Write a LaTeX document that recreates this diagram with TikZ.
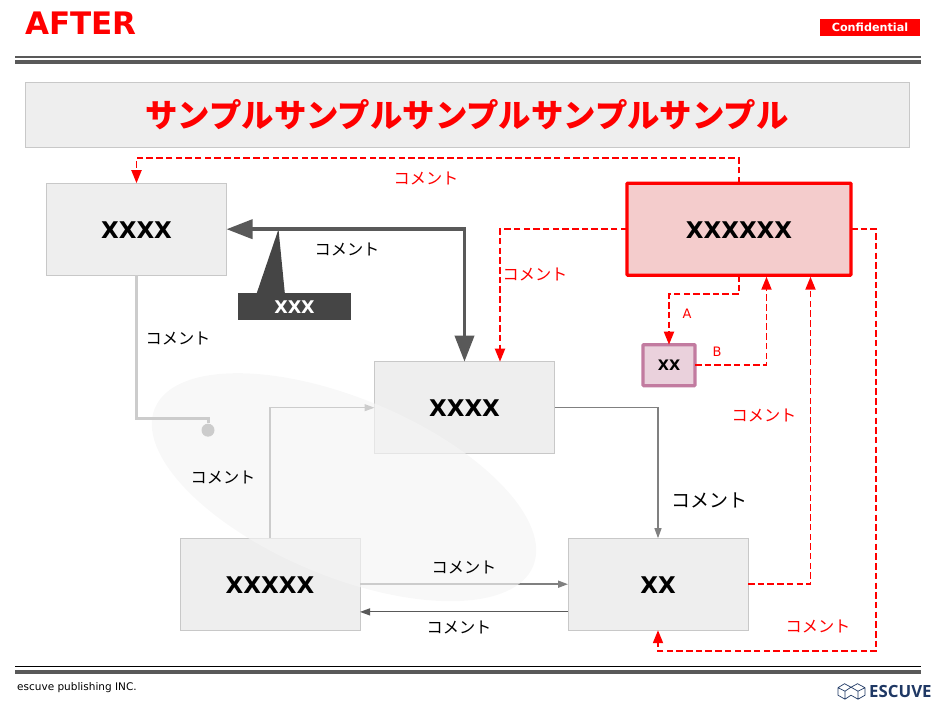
\documentclass[tikz,border=0pt]{standalone}
\usepackage{fontspec}
\setmainfont{DejaVu Sans}
\newfontfamily\cjk{Noto Sans CJK JP}
\newfontfamily\logofont{Open Sans}
\usetikzlibrary{shapes.geometric,positioning,calc,arrows.meta}
\definecolor{boxfill}{HTML}{EEEEEE}
\definecolor{boxline}{HTML}{C8C8C8}
\definecolor{darkline}{HTML}{595959}
\definecolor{midline}{HTML}{808080}
\definecolor{paleline}{HTML}{CCCCCC}
\definecolor{tagfill}{HTML}{454545}
\definecolor{hotfill}{HTML}{F4CCCC}
\definecolor{mauveline}{HTML}{C27BA0}
\definecolor{mauvefill}{HTML}{EAD1DC}
\definecolor{logonavy}{HTML}{1F3864}
\begin{document}
\begin{tikzpicture}[x=1pt, y=-1pt, node distance=20pt]
    % Styles
    \tikzstyle{entity} = [draw=boxline, line width=1pt, fill=boxfill, minimum width=180pt, minimum height=92pt, inner sep=0pt, outer sep=0pt, text height=18pt, text depth=0pt, font=\fontsize{23}{23}\selectfont\bfseries]
    \tikzstyle{hotbox} = [entity, draw=red, line width=3.2pt, fill=hotfill, minimum width=224pt, rounded corners=0.8pt]
    \tikzstyle{smallbox} = [entity, draw=mauveline, line width=3.2pt, fill=mauvefill, minimum width=52pt, minimum height=41pt, rounded corners=0.8pt, text height=11.5pt, font=\fontsize{14.5}{14.5}\selectfont\bfseries]
    \tikzstyle{comment} = [inner sep=0pt, yshift=-0.8pt, font=\fontsize{16.2}{16.2}\selectfont\cjk]
    \tikzstyle{redcomment} = [comment, text=red]
    \tikzstyle{letter} = [inner sep=0pt, text=red, font=\fontsize{13}{13}\selectfont]
    \tikzstyle{reddash} = [draw=red, line width=1.9pt, dash pattern=on 6.5pt off 3.2pt, -{Triangle[length=13pt, width=10pt]}]
    \tikzstyle{bigline} = [draw=darkline, line width=3.7pt, {Triangle[length=26pt, width=19pt]}-{Triangle[length=26pt, width=19pt]}]
    \tikzstyle{thinline} = [draw=midline, line width=1.1pt, -{Triangle[length=10pt, width=7pt]}]
    \tikzstyle{ruleline} = [draw=darkline, line width=4pt]

    \useasboundingbox (0,-0.2) rectangle (951,707.8);

    % Header
    \node [anchor=west, inner sep=0pt, text=red, font=\fontsize{31}{31}\selectfont\bfseries] (Head) at (25,23.3) {AFTER};
    \node [fill=red, text=white, minimum width=100pt, minimum height=17pt, inner sep=0pt, font=\fontsize{11.2}{11.2}\selectfont\bfseries] (Conf) at (870,27.5) {Confidential};
    \coordinate (RuleL) at (15,57); \coordinate (RuleR) at (921,57);
    \draw [draw=darkline, line width=1.4pt] (RuleL) -- (RuleR);
    \draw [ruleline] ($(RuleL)+(0,5.3)$) -- ($(RuleR)+(0,5.3)$);
    \node [entity, minimum width=884pt, minimum height=65pt, text=red, text height=28pt, text depth=4pt, font=\fontsize{32.4}{32.4}\selectfont\cjk\bfseries] (Title) at (467,115) {サンプルサンプルサンプルサンプルサンプル};

    % Boxes
    \node [entity] (Src) at (136.5,229) {XXXX};
    \node [hotbox] (Hot) at (739,229) {XXXXXX};
    \node [smallbox] (Sub) at (669,365) {XX};
    \node [entity] (Mid) at (464.5,407.5) {XXXX};
    \node [entity] (Low) at (270,584) {XXXXX};
    \node [entity, right=208pt of Low] (End) {XX};

    % Tag
    \node [fill=tagfill, text=white, minimum width=113pt, minimum height=27pt, inner sep=0pt, font=\fontsize{17.5}{17.5}\selectfont\bfseries] (Tag) at (294.5,306.5) {XXX};
    \coordinate (TagTip) at (278.5,229);
    \fill [tagfill] ($(Tag.north west)+(19,0)$) -- (TagTip) -- ($(Tag.north west)+(47,0)$) -- cycle;

    % Edges
    \draw [bigline] (Src.east) -| (Mid.north);
    \draw [thinline] (Low.north) |- (Mid.west);
    \draw [thinline] (Mid.east) -| (End.north);
    \draw [thinline, line width=1.7pt] (Low.east) -- (End.west);
    \draw [thinline, draw=darkline] ($(End.west)+(0,27.7)$) -- ($(Low.east)+(0,27.7)$);

    % Red edges
    \draw [reddash] (Hot.north) |- (136.5,158) -- (Src.north);
    \draw [reddash] (Hot.west) -| ($(Mid.north)+(35.5,0)$);
    \draw [reddash] (Hot.south) |- (669,294) -- (Sub.north);
    \draw [reddash] (Sub.east) -| ($(Hot.south)+(27.5,1.5)$);
    \draw [reddash] (End.east) -| ($(Hot.south)+(71.5,1.5)$);
    \draw [reddash] (Hot.east) -| (876,651) -| (End.south);

    % Highlight
    \node [ellipse, fill=black!4, fill opacity=0.65, minimum width=410pt, minimum height=178pt, inner sep=0pt, rotate=-22.7] (Oval) at (344,487) {};

    % Pale line stays above the highlight
    \node [circle, fill=paleline, minimum size=13pt, inner sep=0pt] (Dot) at (208,430) {};
    \draw [draw=paleline, line width=3pt] (Src.south) |- (208,418) -- (Dot);

    % Labels
    \node [redcomment] (Cm1) at (426,177) {コメント};
    \node [comment] (Cm2) at (347,248) {コメント};
    \node [redcomment] (Cm3) at (535,273) {コメント};
    \node [comment] (Cm4) at (178,337) {コメント};
    \node [comment] (Cm5) at (223,476) {コメント};
    \node [comment, font=\fontsize{19}{19}\selectfont\cjk] (Cm6) at (709.5,499.5) {コメント};
    \node [comment] (Cm7) at (464,566) {コメント};
    \node [comment] (Cm8) at (459,626) {コメント};
    \node [redcomment] (Cm9) at (764,414) {コメント};
    \node [redcomment] (Cm10) at (818,625) {コメント};
    \node [letter] (LtrA) at (687,314) {A};
    \node [letter] (LtrB) at (717,352) {B};

    % Footer
    \coordinate (FootL) at (15,666.5); \coordinate (FootR) at (921,666.5);
    \draw [draw=black, line width=1.2pt] (FootL) -- (FootR);
    \draw [ruleline] ($(FootL)+(0,5.5)$) -- ($(FootR)+(0,5.5)$);
    \node [anchor=west, inner sep=0pt, font=\fontsize{10.5}{10.5}\selectfont] (Pub) at (17,687.5) {escuve publishing INC.};
    \node [anchor=west, inner sep=0pt, text=logonavy, font=\fontsize{16.8}{16.8}\selectfont\logofont\bfseries] (Logo) at (869,691) {ESCUVE};
    \draw [logonavy, line width=0.7pt, line join=round] (838,687.5) -- (844.5,683.5) -- (851,687) -- (857.5,683.5) -- (865,687.5) -- (865,695) -- (858,699) -- (851,695) -- (845,699) -- (838,695) -- cycle
        (838,687.5) -- (845,691) -- (845,699) (845,691) -- (851,687) -- (858,691) -- (858,699) (858,691) -- (865,687.5);
\end{tikzpicture}
\end{document}
